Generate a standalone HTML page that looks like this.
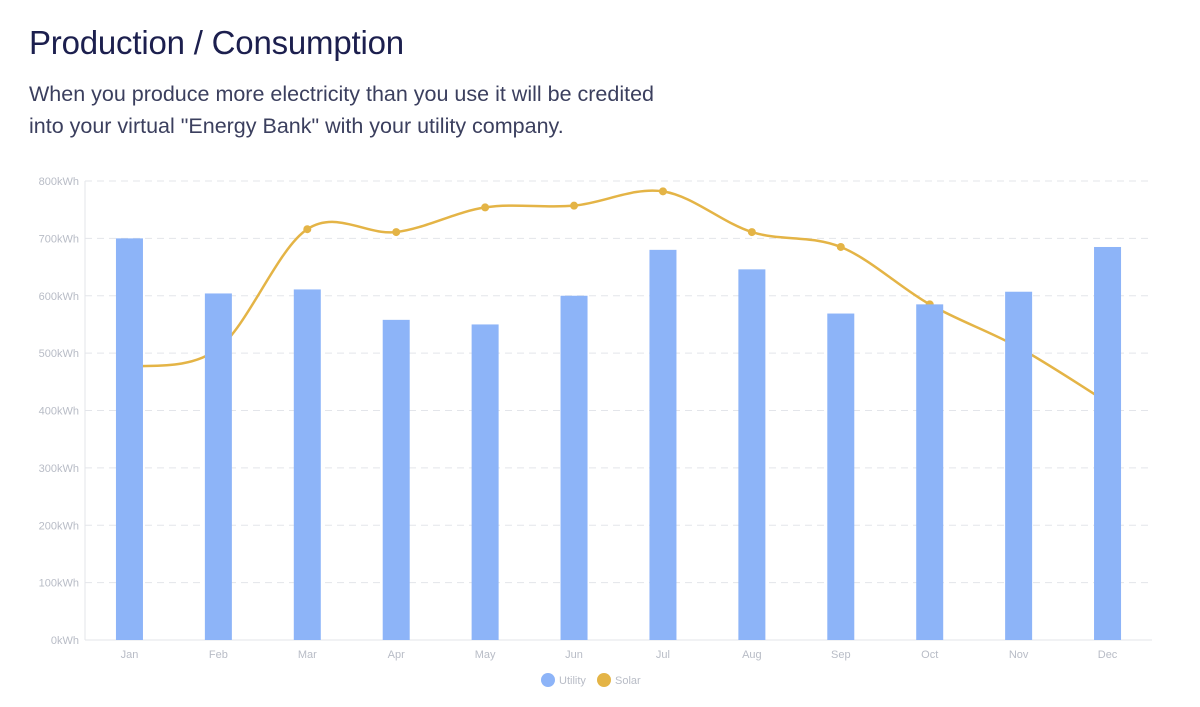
<!DOCTYPE html>
<html><head><meta charset="utf-8"><style>
body{margin:0;width:1200px;height:707px;background:#fff;font-family:"Liberation Sans",sans-serif;overflow:hidden;position:relative}
h1{position:absolute;left:29px;top:24px;margin:0;font-weight:400;font-size:33px;color:#1c1f4e;letter-spacing:-0.2px}
p{position:absolute;left:29px;top:78px;margin:0;font-size:21.5px;line-height:32px;color:#3b3f5e;font-weight:400}
svg{position:absolute;left:0;top:0}
</style></head><body>
<h1>Production / Consumption</h1>
<p>When you produce more electricity than you use it will be credited<br>into your virtual "Energy Bank" with your utility company.</p>
<svg id="c" width="1200" height="707"></svg>
<script>
const categories=["Jan","Feb","Mar","Apr","May","Jun","Jul","Aug","Sep","Oct","Nov","Dec"];
const utility=[700,604,611,558,550,600,680,646,569,585,607,685];
const solar=[476,508,716,711,754,757,782,711,685,585,510,414];
const yTicks=[0,100,200,300,400,500,600,700,800];
const yTickLabels=["0kWh","100kWh","200kWh","300kWh","400kWh","500kWh","600kWh","700kWh","800kWh"];
const X0=85,X1=1152,Y0=640,Y1=181,MAX=800;
const band=(X1-X0)/categories.length;
const x=i=>X0+band*(i+0.5);
const y=v=>Y0-(v/MAX)*(Y0-Y1);
const svg=document.getElementById('c');
const NS='http://www.w3.org/2000/svg';
function mk(t,a){const e=document.createElementNS(NS,t);for(const k in a)e.setAttribute(k,a[k]);svg.appendChild(e);return e;}
yTicks.forEach((v,i)=>{
  const g=mk('line',{x1:X0,x2:X1,y1:y(v),y2:y(v),stroke:i==0?'#e3e5ea':'#e3e5ea','stroke-dasharray':i==0?'':'7 5','stroke-width':1});
  
  
  const t=mk('text',{x:X0-6,y:y(v)+4,'text-anchor':'end','font-size':11,fill:'#b8bcc6','font-family':'Liberation Sans'});
  t.textContent=yTickLabels[i];
  
  
});
const ax=mk('line',{x1:X0,x2:X0,y1:Y1,y2:Y0,stroke:'#e3e5ea'});


// solar smooth line (catmull-rom)
const pts=solar.map((v,i)=>[x(i),y(v)]);
let d='M'+pts[0][0]+','+pts[0][1];
for(let i=0;i<pts.length-1;i++){
  const p0=pts[Math.max(i-1,0)],p1=pts[i],p2=pts[i+1],p3=pts[Math.min(i+2,pts.length-1)];
  const c1=[p1[0]+(p2[0]-p0[0])/6,p1[1]+(p2[1]-p0[1])/6];
  const c2=[p2[0]-(p3[0]-p1[0])/6,p2[1]-(p3[1]-p1[1])/6];
  d+=` C${c1[0]},${c1[1]} ${c2[0]},${c2[1]} ${p2[0]},${p2[1]}`;
}
const line=mk('path',{d:d,fill:'none',stroke:'#e4b446','stroke-width':2.5});


pts.forEach((p,i)=>{
  const c=mk('circle',{cx:p[0],cy:p[1],r:4,fill:'#e4b446'});
  
  
});
utility.forEach((v,i)=>{
  const r=mk('rect',{x:x(i)-13.5,y:y(v),width:27,height:Y0-y(v),fill:'#8db4f8'});
  
  
  const t=mk('text',{x:x(i),y:658,'text-anchor':'middle','font-size':11,fill:'#b8bcc6','font-family':'Liberation Sans'});
  t.textContent=categories[i];
  
  
});
const l1=mk('circle',{cx:548,cy:680,r:7,fill:'#8db4f8'});


const lt1=mk('text',{x:559,y:684,'font-size':11,fill:'#b8bcc6'});lt1.textContent='Utility';


const l2=mk('circle',{cx:604,cy:680,r:7,fill:'#e4b446'});


const lt2=mk('text',{x:615,y:684,'font-size':11,fill:'#b8bcc6'});lt2.textContent='Solar';


</script>
</body></html>
